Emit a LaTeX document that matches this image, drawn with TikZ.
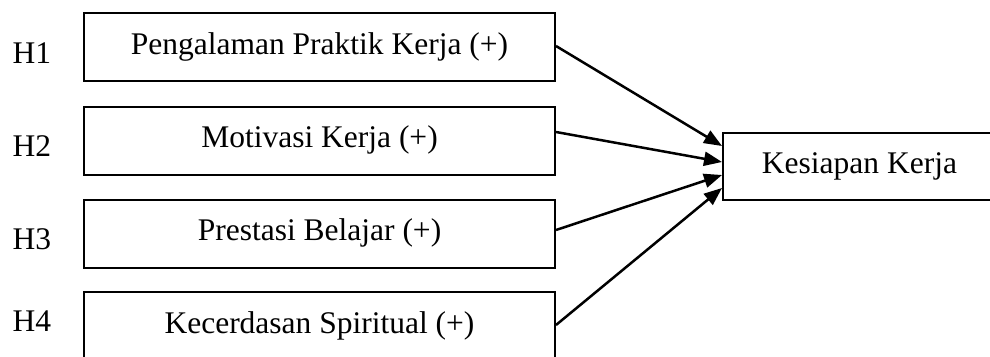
\documentclass[tikz,border=0pt]{standalone}
\usepackage{fontspec}
\setmainfont{Liberation Serif}
\usetikzlibrary{arrows.meta}
\tikzset{
  varbox/.style={draw=black, line width=2pt, rectangle, inner xsep=0pt, inner ysep=0pt,
    minimum width=471pt, text height=41pt, text depth=27pt,
    font=\fontsize{31.5}{38}\selectfont},
  resbox/.style={draw=black, line width=2pt, rectangle, inner xsep=0pt, inner ysep=0pt,
    minimum width=273pt, text height=40pt, text depth=27pt,
    font=\fontsize{31.5}{38}\selectfont},
  hlabel/.style={anchor=base west, inner sep=0pt, font=\fontsize{31.5}{38}\selectfont},
  link/.style={line width=2.5pt, -{Triangle[length=18pt,width=14pt]}}
}
\begin{document}
\begin{tikzpicture}[x=1pt,y=-1pt]
\useasboundingbox (0,0) rectangle (990,356);
\clip (0,0) rectangle (990,356);
\node[varbox] (b1) at (319.5,47) {Pengalaman Praktik Kerja (+)};
\node[varbox] (b2) at (319.5,140.5) {Motivasi Kerja (+)};
\node[varbox] (b3) at (319.5,233.5) {Prestasi Belajar (+)};
\node[varbox] (b4) at (319.5,326) {Kecerdasan Spiritual (+)};
\node[resbox] (k) at (859.5,166.5) {Kesiapan Kerja};
\node[hlabel] (h1) at (12.5,63.3) {H1};
\node[hlabel] (h2) at (12.5,156.7) {H2};
\node[hlabel] (h3) at (12.5,249) {H3};
\node[hlabel] (h4) at (12.5,331.7) {H4};
\draw[link] ([yshift=1pt]b1.east) -- ([yshift=20.5pt]k.west);
\draw[link] ([yshift=8.5pt]b2.east) -- ([yshift=4.5pt]k.west);
\draw[link] ([yshift=3.5pt]b3.east) -- ([yshift=-8.5pt]k.west);
\draw[link] ([yshift=1pt]b4.east) -- ([yshift=-21.5pt]k.west);
\end{tikzpicture}
\end{document}
